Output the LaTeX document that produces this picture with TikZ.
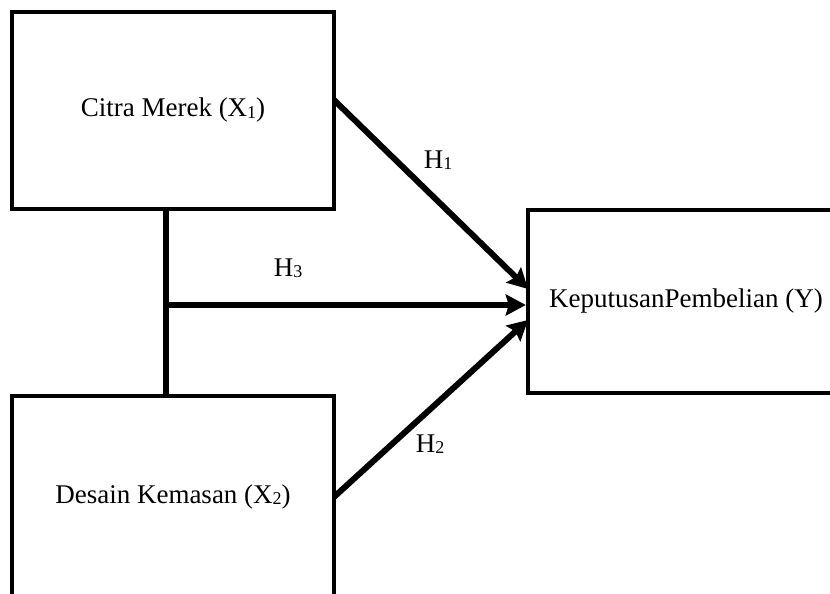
\documentclass[tikz,border=0pt]{standalone}
\usepackage{fontspec}
\setmainfont{Liberation Serif}
\usetikzlibrary{arrows.meta,calc}
\newcommand{\lowsub}[1]{\raisebox{-1.5pt}{\fontsize{18}{20}\selectfont #1}}

\begin{document}
\begin{tikzpicture}[x=1pt,y=-1pt,
  box/.style={draw, line width=4.5pt, rectangle, inner sep=0pt, font=\fontsize{27}{32}\selectfont},
  link/.style={line width=6pt},
  hyp/.style={link, -{Stealth[length=20pt,width=21pt,inset=3pt]}},
  lab/.style={font=\fontsize{27}{32}\selectfont}]
\useasboundingbox (0,0) rectangle (830,594);
\clip (0,0) rectangle (830,594);
\node[box, minimum width=322pt, minimum height=197pt] (citra) at (173,110.5){Citra Merek (X\lowsub{1})};
\node[box, minimum width=322pt, minimum height=202pt] (desain) at (173,497){Desain Kemasan (X\lowsub{2})};
\node[box, minimum width=316pt, minimum height=183pt] (keputusan) at (686,301.5){KeputusanPembelian (Y)};
\coordinate (jn) at (166,305);
\coordinate (s1) at (334,100);
\coordinate (s2) at (334,497);
\coordinate (t1) at (528,289);
\coordinate (t2) at (528,320);
\draw[link](citra.south -| jn) -- (desain.north -| jn);
\draw[hyp](jn) -- (jn -| keputusan.west);
\draw[hyp](s1) -- (t1);
\draw[hyp](s2) -- (t2);
\node[lab] (h1) at (438,160){H\lowsub{1}};
\node[lab] (h3) at (288,268){H\lowsub{3}};
\node[lab] (h2) at (430,444){H\lowsub{2}};
\end{tikzpicture}
\end{document}
